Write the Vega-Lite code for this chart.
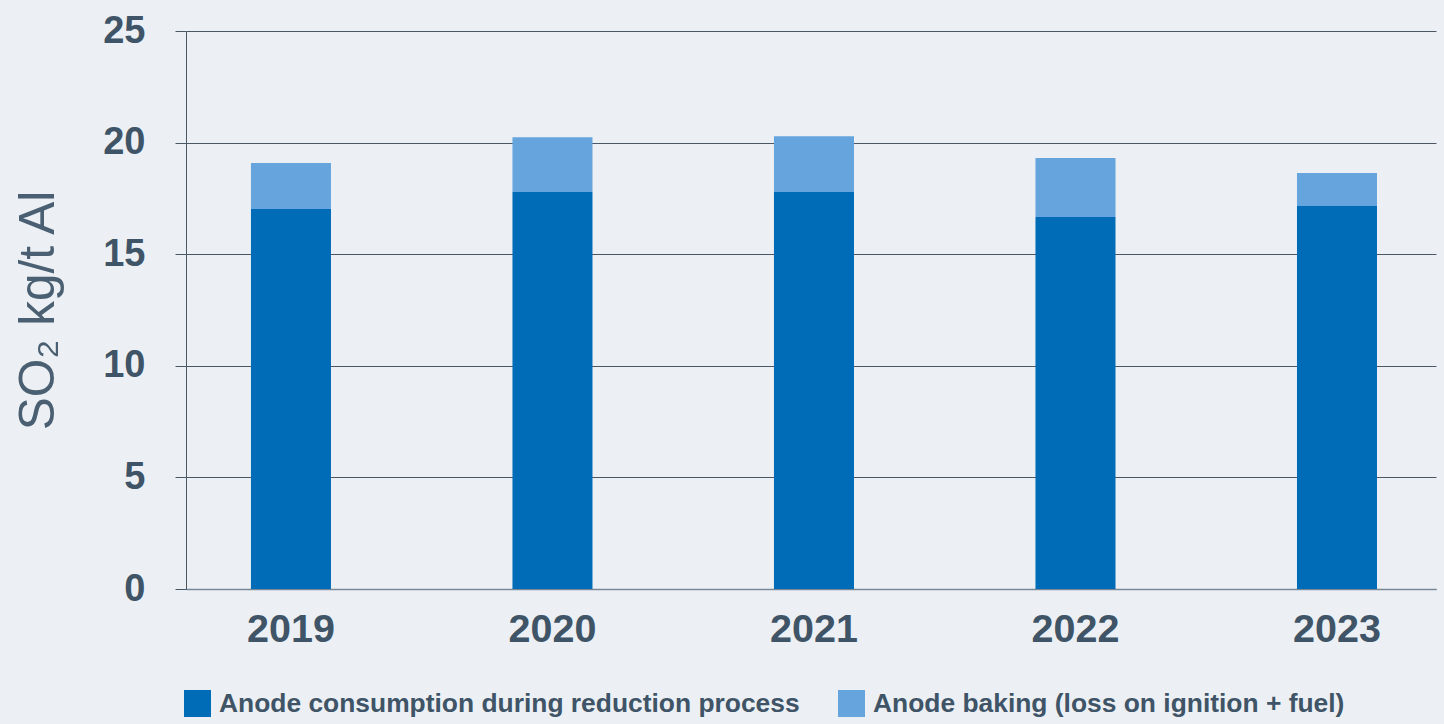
{
  "$schema": "https://vega.github.io/schema/vega-lite/v6.json",
  "width": 1250,
  "height": 558,
  "autosize": {"type": "none"},
  "padding": {"left": 186, "top": 31, "right": 8, "bottom": 135},
  "background": "#ecf0f4",
  "config": {
    "font": "Liberation Sans",
    "view": {"stroke": null},
    "axis": {"labelColor": "#3f5467", "titleColor": "#4a6072"}
  },
  "data": {
    "values": [
      {"year": "2019", "source": "Anode consumption during reduction process", "value": 17.02, "ord": 0},
      {"year": "2019", "source": "Anode baking (loss on ignition + fuel)", "value": 2.07, "ord": 1},
      {"year": "2020", "source": "Anode consumption during reduction process", "value": 17.79, "ord": 0},
      {"year": "2020", "source": "Anode baking (loss on ignition + fuel)", "value": 2.45, "ord": 1},
      {"year": "2021", "source": "Anode consumption during reduction process", "value": 17.79, "ord": 0},
      {"year": "2021", "source": "Anode baking (loss on ignition + fuel)", "value": 2.49, "ord": 1},
      {"year": "2022", "source": "Anode consumption during reduction process", "value": 16.67, "ord": 0},
      {"year": "2022", "source": "Anode baking (loss on ignition + fuel)", "value": 2.64, "ord": 1},
      {"year": "2023", "source": "Anode consumption during reduction process", "value": 17.16, "ord": 0},
      {"year": "2023", "source": "Anode baking (loss on ignition + fuel)", "value": 1.48, "ord": 1}
    ]
  },
  "mark": {"type": "bar"},
  "encoding": {
    "x": {
      "field": "year",
      "type": "nominal",
      "scale": {"paddingInner": 0.694, "paddingOuter": 0.237, "align": 0.524},
      "axis": {
        "title": null,
        "labelAngle": 0,
        "labelFont": "Liberation Sans",
        "labelFontWeight": "bold",
        "labelFontSize": 39.5,
        "labelPadding": 21,
        "ticks": false,
        "domain": true,
        "domainColor": "#7a8896",
        "domainWidth": 1.5
      }
    },
    "y": {
      "field": "value",
      "type": "quantitative",
      "stack": "zero",
      "scale": {"domain": [0, 25]},
      "axis": {
        "title": "SO₂ kg/t Al",
        "titleFont": "Liberation Sans",
        "titleFontWeight": "normal",
        "titleFontSize": 49.5,
        "titlePadding": 39,
        "values": [0, 5, 10, 15, 20, 25],
        "labelFontWeight": "bold",
        "labelFontSize": 38,
        "labelPadding": 30,
        "tickSize": 11,
        "tickColor": "#4a5866",
        "gridColor": "#4a5866",
        "gridWidth": 1,
        "grid": true,
        "domain": true,
        "domainColor": "#4a5866",
        "domainWidth": 1
      }
    },
    "color": {
      "field": "source",
      "type": "nominal",
      "sort": ["Anode consumption during reduction process", "Anode baking (loss on ignition + fuel)"],
      "scale": {
        "domain": ["Anode consumption during reduction process", "Anode baking (loss on ignition + fuel)"],
        "range": ["#006cb7", "#66a4de"]
      },
      "legend": {
        "title": null,
        "orient": "none",
        "legendX": -2,
        "legendY": 659,
        "direction": "horizontal",
        "columns": 2,
        "columnPadding": 38,
        "symbolType": "square",
        "symbolSize": 729,
        "symbolStrokeWidth": 0,
        "labelFont": "Liberation Sans",
        "labelFontWeight": "bold",
        "labelFontSize": 26.4,
        "labelColor": "#3f5467",
        "labelOffset": 8,
        "labelLimit": 800
      }
    },
    "order": {"field": "ord", "type": "quantitative"}
  }
}
